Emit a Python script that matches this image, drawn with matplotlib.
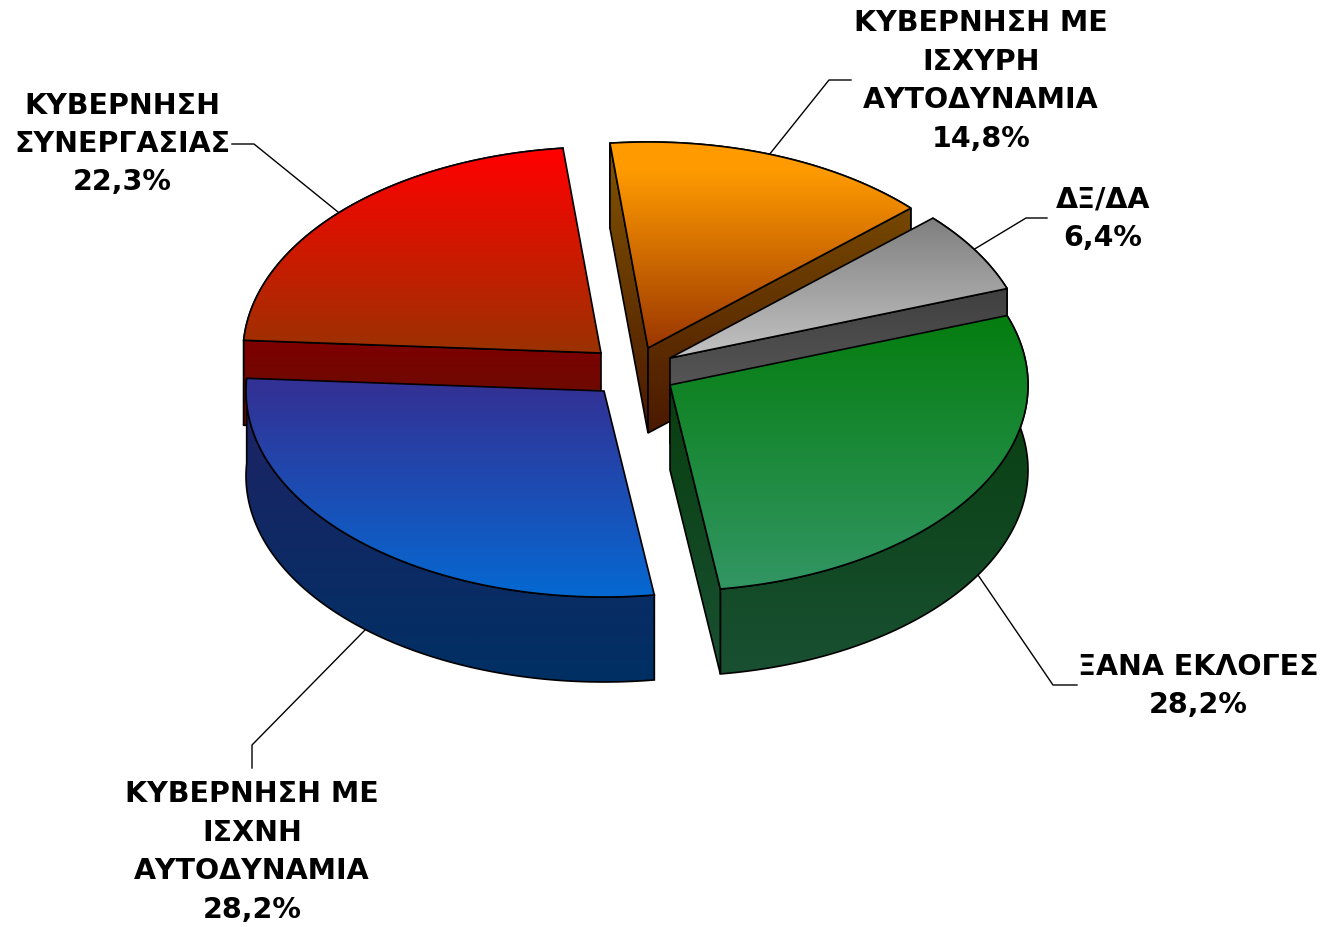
import numpy as np
import matplotlib
matplotlib.use('Agg')
import matplotlib.pyplot as plt
from matplotlib.patches import Polygon

labels = ["ΚΥΒΕΡΝΗΣΗ ΜΕ\nΙΣΧΥΡΗ\nΑΥΤΟΔΥΝΑΜΙΑ", "ΔΞ/ΔΑ", "ΞΑΝΑ ΕΚΛΟΓΕΣ",
          "ΚΥΒΕΡΝΗΣΗ ΜΕ\nΙΣΧΝΗ\nΑΥΤΟΔΥΝΑΜΙΑ", "ΚΥΒΕΡΝΗΣΗ\nΣΥΝΕΡΓΑΣΙΑΣ"]
values = [14.8, 6.4, 28.2, 28.2, 22.3]

# apex of each exploded slice, in pixels
apex = [(648, 348), (670, 358), (670, 385), (604, 391), (601, 353)]
top_cols = [((255, 155, 0), (155, 55, 0)), ((128, 128, 128), (195, 195, 195)),
            ((5, 125, 15), (50, 150, 100)), ((50, 50, 150), (5, 105, 210)),
            ((255, 0, 0), (155, 50, 0))]
top_span = [(170, 348), (219, 358), (316, 589), (391, 598), (150, 353)]
wall_cols = [((130, 85, 0), (75, 25, 0)), ((64, 64, 64), (85, 85, 85)),
             ((8, 62, 14), (25, 80, 50)), ((30, 35, 100), (0, 48, 100)),
             ((125, 0, 0), (110, 10, 0))]
wall_span = [(143, 433), (290, 385), (385, 674), (400, 682), (344, 390)]
label_pos = [(981, 81), (1103, 219), (1198, 686), (252, 852), (122, 144)]
leaders = [[(851, 80), (829, 80), (769, 155)], [(1047, 218), (1026, 218), (973, 250)],
           [(1077, 685), (1053, 685), (978, 575)], [(252, 768), (252, 745), (365, 630)],
           [(232, 144), (254, 144), (338, 212)]]
draw_order = [0, 1, 4, 2, 3]

RX, RY, DEPTH = 358, 206, 85
START = -6.1

plt.rcParams['font.family'] = ['DejaVu Sans']
fig = plt.figure(figsize=(13.26, 9.27), dpi=100)
ax = fig.add_axes([0, 0, 1, 1])
z = [2]


def face(pts, c0, c1, y0, y1):
    pts = np.array(pts)
    x0, x1 = pts[:, 0].min() - 1, pts[:, 0].max() + 1
    ya, yb = pts[:, 1].min() - 1, pts[:, 1].max() + 1
    yy = np.arange(np.floor(ya), np.ceil(yb) + 1)
    g = np.clip((yy - y0) / (y1 - y0), 0, 1)[:, None, None]
    img = (np.array(c0) + (np.array(c1) - np.array(c0)) * g) / 255
    im = ax.imshow(img, extent=[x0, x1, yy[-1], yy[0]], aspect='auto', zorder=z[0], interpolation='bilinear')
    clip = Polygon(pts, closed=True, transform=ax.transData, fc='none', ec='none')
    ax.add_patch(clip)
    im.set_clip_path(clip)
    ax.add_patch(Polygon(pts, closed=True, fc='none', ec='black', lw=1.2, joinstyle='miter', zorder=z[0] + 0.5))
    z[0] += 1


angles = START + np.cumsum([0] + values) * 360 / sum(values)
for i in draw_order:
    cx, cy = apex[i]
    t = np.radians(np.linspace(angles[i], angles[i + 1], 120))
    rim = np.column_stack([cx + RX * np.sin(t), cy - RY * np.cos(t)])
    low = rim + [0, DEPTH]
    wc0, wc1 = wall_cols[i]
    sy0, sy1 = wall_span[i]
    mid = rim[60]
    # outer wall, then the cut faces we can see, then the top
    face(np.vstack([rim, low[::-1]]), wc0, wc1, sy0, sy1)
    for p in (rim[0], rim[-1]):
        line_y = cy + (p[1] - cy) * (mid[0] - cx) / (p[0] - cx)
        if mid[1] < line_y:
            face([(cx, cy), p, p + [0, DEPTH], (cx, cy + DEPTH)], wc0, wc1, sy0, sy1)
    face(np.vstack([[(cx, cy)], rim]), top_cols[i][0], top_cols[i][1], top_span[i][0], top_span[i][1])

for i in range(len(values)):
    xs, ys = zip(*leaders[i])
    ax.plot(xs, ys, color='black', lw=1.0, zorder=1)
    txt = labels[i] + "\n" + f"{values[i]:.1f}".replace('.', ',') + "%"
    ax.text(label_pos[i][0], label_pos[i][1], txt, ha='center', va='center', fontsize=20.5,
            fontweight='bold', color='black', linespacing=1.47, zorder=100)

ax.set_xlim(0, 1326)
ax.set_ylim(927, 0)
ax.axis('off')
fig.savefig('out.png', dpi=100, facecolor='white')
